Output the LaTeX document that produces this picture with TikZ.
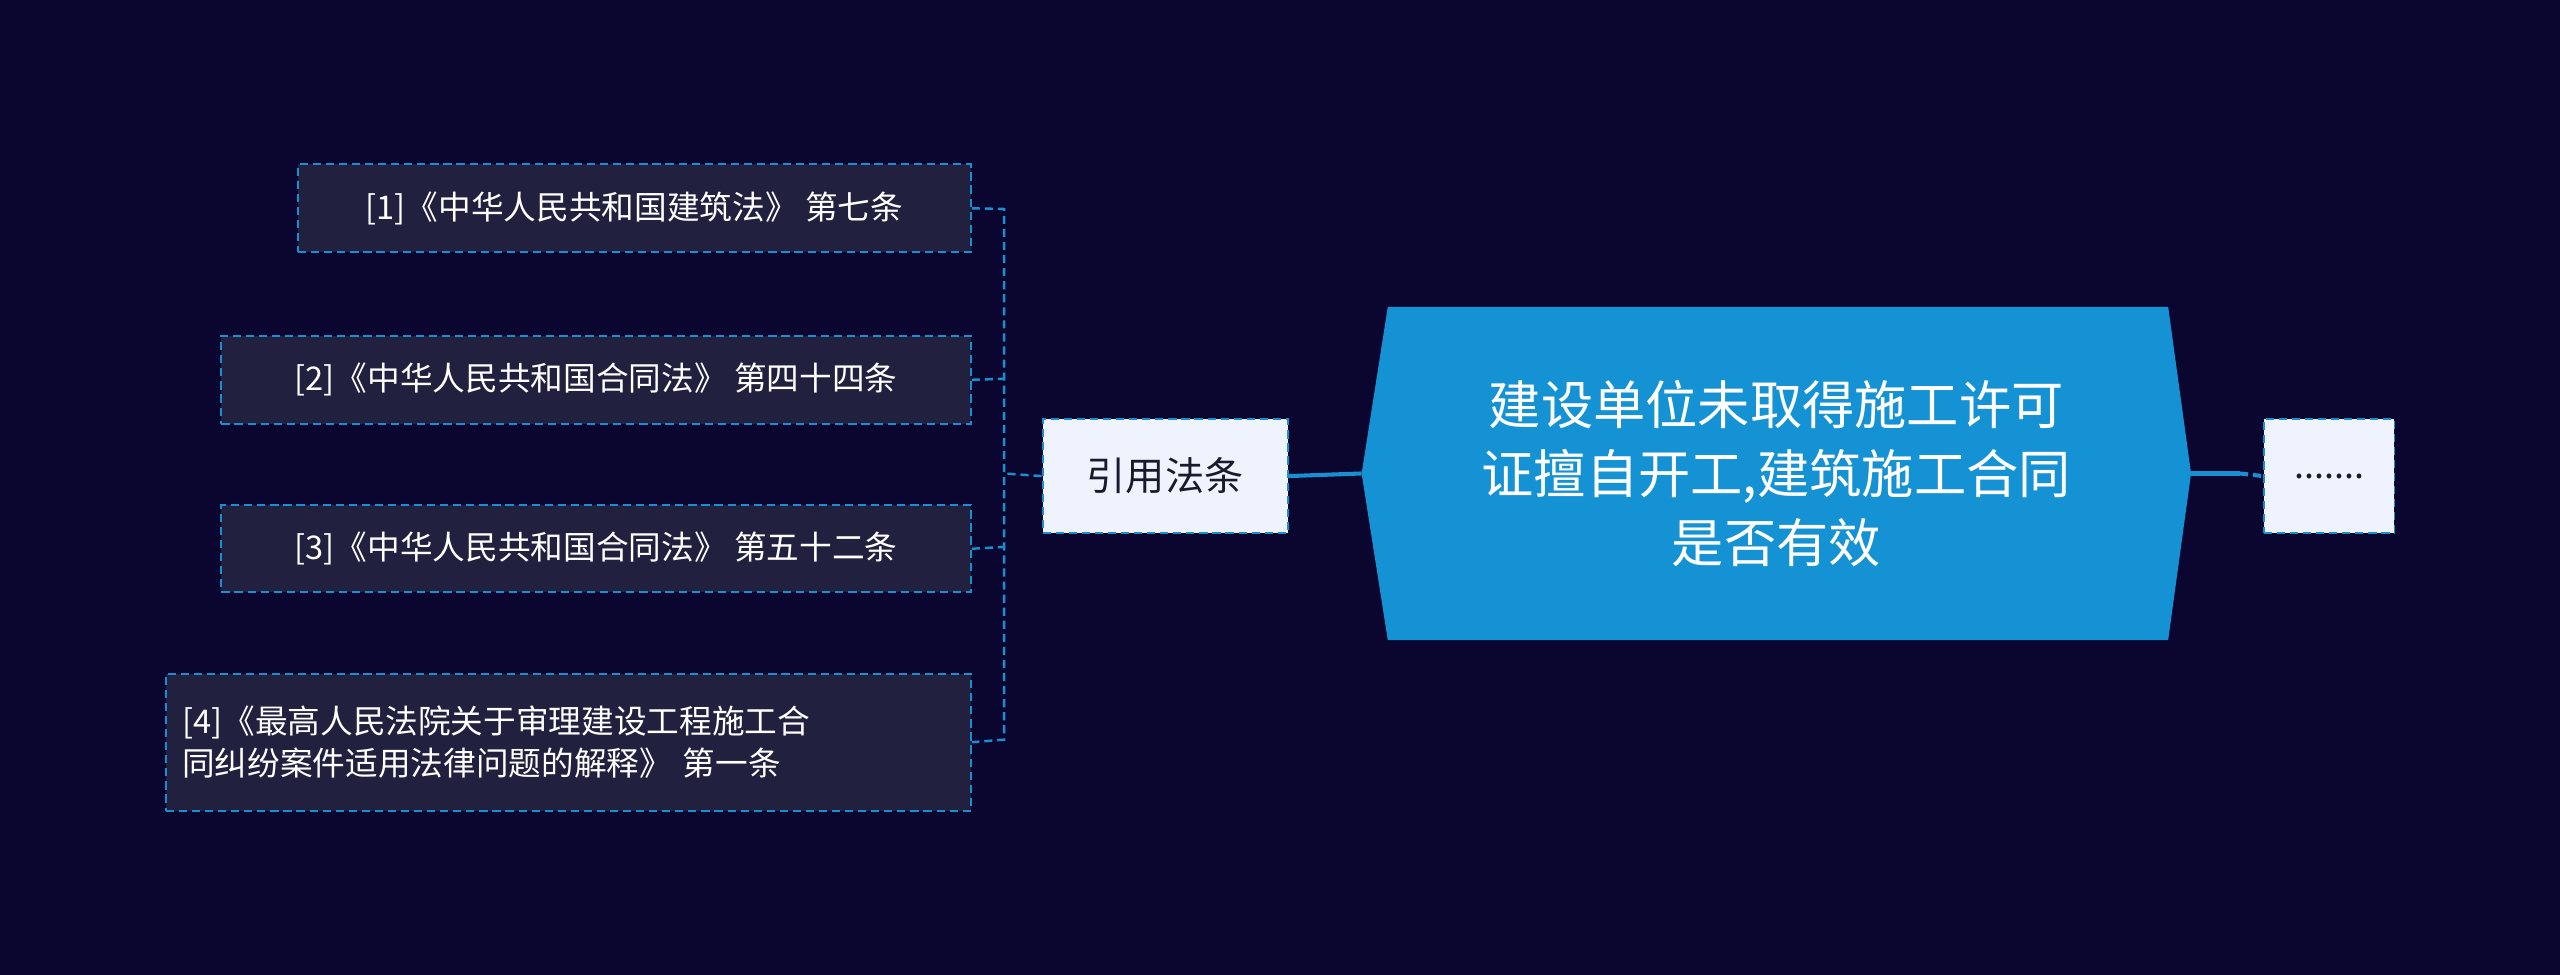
\documentclass[tikz,border=0pt]{standalone}
\usepackage{fontspec}
\setmainfont{Noto Sans CJK SC}
\begin{document}
\begin{tikzpicture}[x=1pt,y=-1pt,
  leaf/.style={draw=cB,dashed,line width=1.2pt,dash pattern=on 5pt off 3pt,fill=cL,text=white,font=\fontsize{20}{26}\selectfont,inner sep=0pt,anchor=north west},
  lite/.style={draw=cB,line width=1.2pt,dash pattern=on 5pt off 3pt,fill=cW,text=cT,anchor=north west,inner sep=0pt},
  conn/.style={draw=cB,line width=1.5pt,dash pattern=on 5pt off 3pt}]
\definecolor{bg}{HTML}{0A0630}
\definecolor{cB}{HTML}{1A8FD0}
\definecolor{cM}{HTML}{1592D3}
\definecolor{cL}{HTML}{22203F}
\definecolor{cW}{HTML}{EEF3FD}
\definecolor{cT}{HTML}{1A1A2E}
\fill[bg] (0,0) rectangle (1568,597);
\useasboundingbox (0,0) rectangle (1568,597);
% main
\fill[cM] (850,188) -- (1328,188) -- (1342,290) -- (1328,392) -- (850,392) -- (834,290) -- cycle;
\node[text=white,font=\fontsize{32}{42}\selectfont,align=center] (main) at (1088,290) {建设单位未取得施工许可\\证擅自开工,建筑施工合同\\是否有效};
\coordinate (mL) at (834,290); \coordinate (mR) at (1342,290);
\node[lite,minimum width=80pt,minimum height=70pt,font=\fontsize{22}{26}\selectfont] (dots) at (1386,256) {.......};
\node[lite,minimum width=150pt,minimum height=70pt,font=\fontsize{24}{30}\selectfont] (ref) at (638,256) {引用法条};
\node[leaf,minimum width=412pt,minimum height=54pt] (l1) at (182,100) {[1]《中华人民共和国建筑法》 第七条};
\node[leaf,minimum width=459pt,minimum height=54pt] (l2) at (135,205) {[2]《中华人民共和国合同法》 第四十四条};
\node[leaf,minimum width=459pt,minimum height=53pt] (l3) at (135,309) {[3]《中华人民共和国合同法》 第五十二条};
\node[leaf,minimum width=493pt,minimum height=84pt,align=left,text width=473pt] (l4) at (101,412) {\hspace*{0pt}[4]《最高人民法院关于审理建设工程施工合\\同纠纷案件适用法律问题的解释》 第一条};
\draw[cB,line width=2.5pt] (mR) -- ++(30,0);
\draw[conn,line width=2.5pt] (mR) ++(30,0) -- (dots.west);
\draw[cB,line width=2.5pt] (ref.east) -- (mL);
\draw[conn] (ref.west) -- (615,290);
\draw[conn] (l1.east) -- (615,128) -- (615,453) -- (l4.east);
\draw[conn] (l2.east) -- (615,232);
\draw[conn] (l3.east) -- (615,335);
\end{tikzpicture}
\end{document}
